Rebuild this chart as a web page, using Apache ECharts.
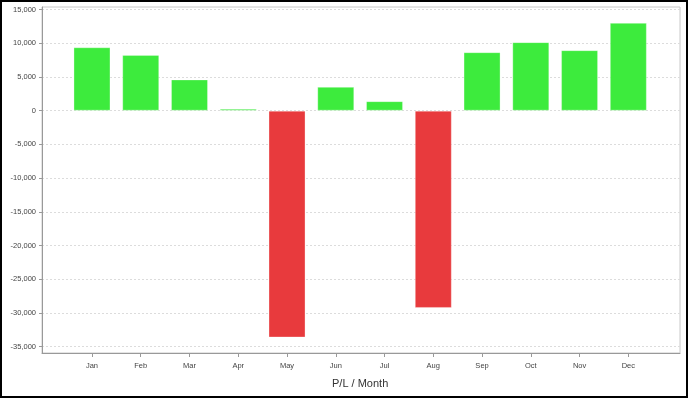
<!DOCTYPE html>
<html lang="en">
<head>
  <meta charset="UTF-8">
  <title>P/L / Month</title>
  <script src="https://cdn.jsdelivr.net/npm/echarts@6/dist/echarts.min.js"></script>
</head>
<body style="margin:0;">
<div id="main" style="width: 688px;height:398px;"></div>
<script type="text/javascript">

const months = ['Jan', 'Feb', 'Mar', 'Apr', 'May', 'Jun', 'Jul', 'Aug', 'Sep', 'Oct', 'Nov', 'Dec'];
const profitLoss = [9400, 8270, 4630, 300, -33630, 3530, 1410, -29250, 8670, 10160, 8970, 13020];
const yTicks = [-35000, -30000, -25000, -20000, -15000, -10000, -5000, 0, 5000, 10000, 15000];

const yMin = -35930;
const yMax = 15370;
const labelFont = {fontFamily: 'Liberation Sans', fontSize: 7.5, color: '#444'};

const myChart = echarts.init(document.getElementById('main'));
const option = {
  animation: false,
  backgroundColor: '#fff',
  grid: [
    // outer frame: carries the value axis and the grid lines
    {left: 42, top: 7, width: 638, height: 346, show: true, borderColor: '#c8c8c8', borderWidth: 1},
    // inner band for the categories (category margins on both sides)
    {left: 67.6, top: 7, width: 585.1, height: 346}
  ],
  xAxis: [
    {
      gridIndex: 0, type: 'value', min: 0, max: 1,
      axisLine: {show: true, onZero: false, lineStyle: {color: '#999'}},
      axisTick: {show: false}, axisLabel: {show: false}, splitLine: {show: false}
    },
    {
      gridIndex: 1, type: 'category', data: months,
      axisLine: {show: false, onZero: false},
      axisTick: {show: true, alignWithLabel: true, length: 4, lineStyle: {color: '#999'}},
      axisLabel: Object.assign({margin: 9}, labelFont),
      name: 'P/L / Month', nameLocation: 'middle', nameGap: 25,
      nameTextStyle: {fontFamily: 'Liberation Sans', fontSize: 11, color: '#333'}
    }
  ],
  yAxis: [
    {
      gridIndex: 0, type: 'value', min: yMin, max: yMax,
      axisLine: {show: true, lineStyle: {color: '#999'}},
      axisTick: {show: true, length: 3, customValues: yTicks, lineStyle: {color: '#999'}},
      axisLabel: Object.assign({
        margin: 6, customValues: yTicks,
        formatter: v => v.toLocaleString('en-US')
      }, labelFont),
      splitLine: {show: true, lineStyle: {color: '#dcdcdc', type: [2, 2]}}
    },
    {
      gridIndex: 1, type: 'value', min: yMin, max: yMax, show: false
    }
  ],
  series: [
    {
      name: 'P/L',
      type: 'bar',
      xAxisIndex: 1,
      yAxisIndex: 1,
      barWidth: 37,
      data: profitLoss,
      itemStyle: {
        color: p => p.value >= 0 ? '#3deb3d' : '#e83a3d',
        borderColor: 'rgba(255,255,255,0.3)',
        borderWidth: 1
      }
    }
  ],
  graphic: [
    {
      type: 'rect', silent: true, z: 100,
      shape: {x: 1, y: 1, width: 686, height: 396},
      style: {fill: null, stroke: '#000', lineWidth: 2}
    }
  ]
};
myChart.setOption(option);
</script>
</body>
</html>
